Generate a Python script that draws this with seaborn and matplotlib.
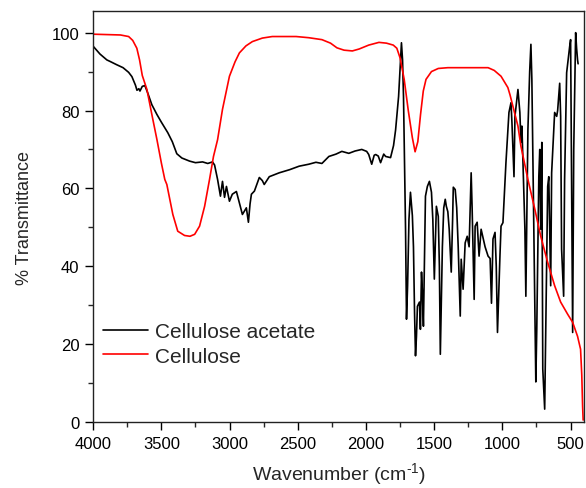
import numpy as np
import pandas as pd
import matplotlib.pyplot as plt
import seaborn as sns

# Cellulose acetate spectrum (wavenumber, %T)
acetate_wn = [4000, 3950, 3900, 3876, 3830, 3781, 3740, 3716, 3690, 3679, 3665, 3657, 3640, 3621,
              3600, 3570, 3533, 3500, 3453, 3420, 3387, 3350, 3293, 3250, 3198, 3160, 3125, 3110,
              3088, 3067, 3052, 3037, 3023, 3001, 2980, 2950, 2930, 2906, 2877, 2862, 2850, 2840,
              2818, 2782, 2760, 2746, 2709, 2636, 2560, 2490, 2420, 2367, 2323, 2272, 2220, 2177,
              2126, 2080, 2031, 1995, 1980, 1958, 1940, 1929, 1910, 1893, 1870, 1856, 1820, 1798,
              1783, 1761, 1748, 1740, 1732, 1725, 1710, 1703, 1695, 1685, 1674, 1660, 1652, 1644,
              1637, 1630, 1623, 1608, 1601, 1593, 1586, 1579, 1570, 1564, 1550, 1535, 1520, 1510,
              1499, 1484, 1470, 1462, 1455, 1440, 1430, 1419, 1411, 1400, 1390, 1375, 1365, 1360,
              1346, 1335, 1324, 1309, 1302, 1288, 1273, 1258, 1244, 1229, 1222, 1215, 1207, 1200,
              1185, 1171, 1156, 1140, 1127, 1105, 1090, 1080, 1069, 1054, 1045, 1036, 1018, 1010,
              996, 974, 952, 937, 930, 915, 908, 886, 872, 864, 857, 850, 835, 828, 813, 800,
              791, 784, 770, 755, 748, 733, 726, 719, 711, 704, 690, 682, 668, 660, 646, 639,
              617, 602, 595, 580, 573, 566, 551, 544, 529, 507, 500, 492, 485, 477, 463, 456,
              449, 445]
acetate_t = [96.5, 94.5, 93.0, 92.6, 91.8, 91.0, 89.8, 88.7, 86.5, 85.2, 85.6, 85.0, 86.2, 86.4,
             84.5, 81.5, 79.0, 77.0, 74.3, 72.0, 68.9, 67.8, 67.0, 66.6, 66.8, 66.4, 66.8, 66.0,
             62.3, 58.0, 61.8, 57.7, 60.5, 56.7, 58.5, 59.2, 56.5, 53.3, 55.0, 51.3, 56.0, 58.5,
             59.3, 62.8, 62.0, 61.0, 63.0, 64.0, 64.8, 65.7, 66.2, 66.7, 66.4, 68.2, 68.8, 69.5,
             69.0, 69.6, 70.0, 69.5, 68.7, 66.2, 68.5, 68.7, 68.3, 66.6, 68.8, 68.2, 67.9, 71.0,
             75.0, 83.6, 92.0, 97.4, 93.0, 83.6, 49.5, 26.4, 35.0, 52.0, 59.0, 53.0, 45.0, 28.0,
             17.0, 22.0, 29.7, 30.8, 23.8, 38.5, 33.0, 24.6, 45.0, 58.0, 60.5, 61.8, 59.0, 52.0,
             36.7, 55.4, 52.8, 40.0, 17.4, 45.0, 55.0, 57.2, 55.4, 54.0, 49.5, 38.5, 52.0, 60.3,
             59.7, 55.0, 45.0, 27.2, 41.8, 34.1, 46.0, 47.7, 45.0, 64.0, 55.0, 43.6, 31.5, 50.3,
             51.3, 42.6, 49.5, 47.0, 45.0, 42.6, 42.0, 30.5, 47.0, 48.7, 40.0, 23.0, 42.6, 50.3,
             51.2, 66.6, 79.5, 82.0, 76.9, 63.0, 78.5, 85.4, 79.5, 71.8, 76.0, 67.4, 49.5, 32.3,
             75.0, 90.0, 97.0, 88.0, 49.5, 10.3, 23.8, 63.0, 70.0, 49.5, 71.8, 13.6, 3.3, 23.8,
             60.5, 63.0, 35.0, 64.0, 79.5, 78.5, 80.0, 87.0, 78.5, 44.4, 32.3, 62.3, 89.7, 96.4,
             98.2, 60.0, 23.0, 70.0, 100.0, 96.0, 93.0, 92.0]

# Cellulose spectrum
cellulose_wn = [4000, 3900, 3800, 3740, 3710, 3680, 3660, 3640, 3606, 3570, 3533, 3500, 3475,
                3460, 3416, 3380, 3330, 3290, 3256, 3220, 3183, 3147, 3118, 3088, 3052, 3001,
                2960, 2928, 2880, 2833, 2760, 2687, 2600, 2512, 2420, 2323, 2260, 2213, 2161,
                2100, 2050, 1980, 1905, 1850, 1800, 1774, 1750, 1720, 1690, 1660, 1640, 1620,
                1600, 1580, 1560, 1520, 1470, 1400, 1300, 1200, 1105, 1060, 1010, 960, 944, 886,
                864, 813, 762, 719, 668, 617, 573, 522, 485, 449, 427, 418, 412, 408]
cellulose_t = [99.6, 99.5, 99.4, 99.0, 98.0, 96.0, 93.0, 89.0, 85.4, 79.0, 72.6, 66.5, 62.3,
               61.0, 53.3, 49.0, 47.9, 47.7, 48.2, 50.3, 55.4, 62.3, 68.2, 72.5, 80.3, 88.8,
               92.5, 94.8, 96.6, 97.7, 98.6, 99.0, 99.0, 99.0, 98.7, 98.2, 97.3, 96.1, 95.5,
               95.3, 95.8, 96.8, 97.5, 97.3, 96.8, 96.0, 93.5, 88.0, 80.0, 73.0, 69.4, 72.0,
               79.0, 85.0, 88.0, 90.0, 90.8, 91.0, 91.0, 91.0, 91.0, 90.3, 88.8, 85.9, 84.0,
               76.0, 70.8, 62.3, 54.6, 47.7, 41.0, 35.0, 30.8, 27.7, 25.6, 22.0, 18.7, 12.0,
               4.0, 0.5]

df = pd.concat([
    pd.DataFrame({'wn': acetate_wn, 'T': acetate_t, 'sample': 'Cellulose acetate'}),
    pd.DataFrame({'wn': cellulose_wn, 'T': cellulose_t, 'sample': 'Cellulose'}),
])

sns.set_style('ticks')
plt.rcParams['font.family'] = ['Liberation Sans', 'DejaVu Sans']
plt.rcParams['mathtext.fontset'] = 'custom'
plt.rcParams['mathtext.rm'] = 'Liberation Sans'

fig = plt.figure(figsize=(5.86, 4.89), dpi=100)
ax = fig.add_axes([0.159, 0.135, 0.838, 0.84])

sns.lineplot(data=df, x='wn', y='T', hue='sample', sort=False, estimator=None,
             palette={'Cellulose acetate': 'black', 'Cellulose': 'red'},
             linewidth=1.2, ax=ax)

ax.set_xlim(4000, 400)
ax.set_ylim(0, 105.5)
ax.set_xticks(np.arange(4000, 499, -500))
ax.set_xticks(np.arange(3750, 400, -500), minor=True)
ax.set_yticks(np.arange(0, 101, 20))
ax.set_yticks(np.arange(10, 101, 20), minor=True)
ax.tick_params(axis='both', which='major', direction='out', length=6, width=1,
               labelsize=12, colors='black', pad=4)
ax.tick_params(axis='both', which='minor', direction='out', length=3.5, width=1)
for s in ax.spines.values():
    s.set_visible(True)
    s.set_linewidth(1)
    s.set_color('#222222')

ax.set_xlabel(r'Wavenumber (cm$^{\text{-1}}$)', fontsize=14, labelpad=7)
ax.set_ylabel('% Transmittance', fontsize=13, labelpad=13)

ax.legend(loc='center left', bbox_to_anchor=(0.02, 0.19), frameon=False, fontsize=15,
          handlelength=2.15, handletextpad=0.35, labelspacing=0.25,
          borderaxespad=0, borderpad=0)

fig.savefig('out.png', dpi=100)
